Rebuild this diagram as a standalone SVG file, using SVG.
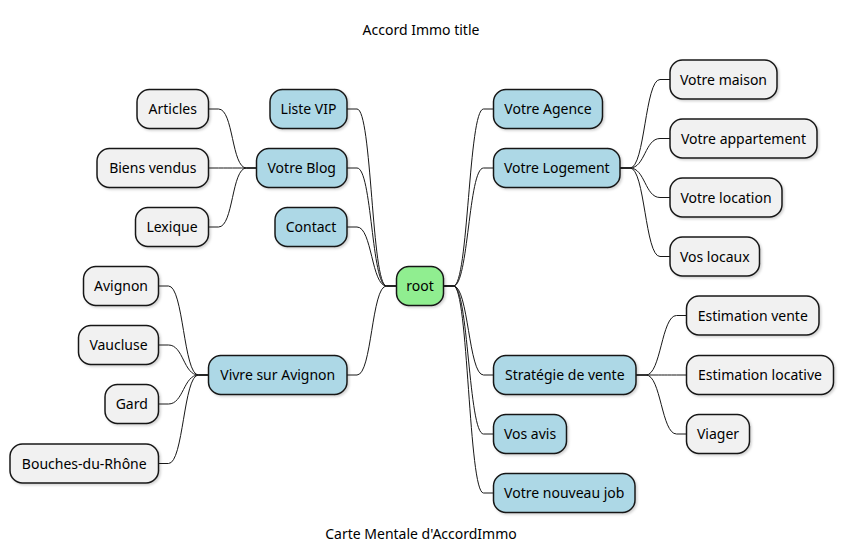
<svg xmlns="http://www.w3.org/2000/svg" width="843" height="555" viewBox="0 0 843 555">
<defs>
<style>
text{font-family:"Noto Sans","Open Sans","DejaVu Sans",sans-serif;font-size:14px;fill:#000000;}
.n text{text-anchor:middle;}
.n rect{stroke:#181818;stroke-width:1.5;rx:12.5;ry:12.5;filter:url(#sh);}
.root rect{fill:#90EE90;}
.l1 rect{fill:#ADD8E6;}
.l2 rect{fill:#F1F1F1;}
#links path{fill:none;stroke:#181818;stroke-width:1;}
</style>
<filter id="sh" x="-10%" y="-10%" width="130%" height="140%">
<feDropShadow dx="1.5" dy="1.5" stdDeviation="1.2" flood-color="#000" flood-opacity="0.18"/>
</filter>
</defs>
<rect width="843" height="555" fill="#FFFFFF"/>
<text x="421" y="35" text-anchor="middle">Accord Immo title</text>
<text x="421" y="539" text-anchor="middle">Carte Mentale d'AccordImmo</text>
<g id="links">
<path d="M396.5,286 L386.5,286 C371.5,286 372,109 357,109 L347,109"/>
<path d="M396.5,286 L386.5,286 C371.5,286 372,168 357,168 L347,168"/>
<path d="M396.5,286 L386.5,286 C371.5,286 372,227 357,227 L347,227"/>
<path d="M396.5,286 L386.5,286 C371.5,286 372,375 357,375 L347,375"/>
<path d="M256.5,168 L246.5,168 C231.5,168 233.5,109 218.5,109 L208.5,109"/>
<path d="M256.5,168 L246.5,168 C231.5,168 233.5,168 218.5,168 L208.5,168"/>
<path d="M256.5,168 L246.5,168 C231.5,168 233.5,227 218.5,227 L208.5,227"/>
<path d="M208.5,375 L198.5,375 C183.5,375 183.5,286 168.5,286 L158.5,286"/>
<path d="M208.5,375 L198.5,375 C183.5,375 183.5,345 168.5,345 L158.5,345"/>
<path d="M208.5,375 L198.5,375 C183.5,375 183.5,404 168.5,404 L158.5,404"/>
<path d="M208.5,375 L198.5,375 C183.5,375 183.5,463.5 168.5,463.5 L158.5,463.5"/>
<path d="M443.5,286 L453.5,286 C468.5,286 468.5,109 483.5,109 L493.5,109"/>
<path d="M443.5,286 L453.5,286 C468.5,286 468.5,168 483.5,168 L493.5,168"/>
<path d="M443.5,286 L453.5,286 C468.5,286 468.5,375 483.5,375 L493.5,375"/>
<path d="M443.5,286 L453.5,286 C468.5,286 468.5,434 483.5,434 L493.5,434"/>
<path d="M443.5,286 L453.5,286 C468.5,286 468.5,493 483.5,493 L493.5,493"/>
<path d="M620,168 L630,168 C645,168 645,79.5 660,79.5 L670,79.5"/>
<path d="M620,168 L630,168 C645,168 645,138.5 660,138.5 L670,138.5"/>
<path d="M620,168 L630,168 C645,168 645,197.5 660,197.5 L670,197.5"/>
<path d="M620,168 L630,168 C645,168 645,256.5 660,256.5 L670,256.5"/>
<path d="M636,375 L646,375 C661,375 661.5,315.5 676.5,315.5 L686.5,315.5"/>
<path d="M636,375 L646,375 C661,375 661.5,375 676.5,375 L686.5,375"/>
<path d="M636,375 L646,375 C661,375 661.5,434 676.5,434 L686.5,434"/>
</g>
<g id="root" class="n root"><rect x="396.5" y="266.5" width="47" height="39"/><text x="420" y="291">root</text></g>
<g id="liste-vip" class="n l1"><rect x="270" y="89.5" width="77" height="39"/><text x="308.5" y="114">Liste VIP</text></g>
<g id="votre-blog" class="n l1"><rect x="256.5" y="148.5" width="90.5" height="39"/><text x="301.75" y="173">Votre Blog</text></g>
<g id="contact" class="n l1"><rect x="275" y="207.5" width="72" height="39"/><text x="311" y="232">Contact</text></g>
<g id="vivre-sur-avignon" class="n l1"><rect x="208.5" y="355.5" width="138.5" height="39"/><text x="277.75" y="380">Vivre sur Avignon</text></g>
<g id="articles" class="n l2"><rect x="137" y="89.5" width="71.5" height="39"/><text x="172.75" y="114">Articles</text></g>
<g id="biens-vendus" class="n l2"><rect x="97" y="148.5" width="111.5" height="39"/><text x="152.75" y="173">Biens vendus</text></g>
<g id="lexique" class="n l2"><rect x="135.5" y="207.5" width="73" height="39"/><text x="172" y="232">Lexique</text></g>
<g id="avignon" class="n l2"><rect x="83.5" y="266.5" width="75" height="39"/><text x="121" y="291">Avignon</text></g>
<g id="vaucluse" class="n l2"><rect x="78.5" y="325.5" width="80" height="39"/><text x="118.5" y="350">Vaucluse</text></g>
<g id="gard" class="n l2"><rect x="105" y="384.5" width="53.5" height="39"/><text x="131.75" y="409">Gard</text></g>
<g id="bouches-du-rhone" class="n l2"><rect x="10" y="444" width="148.5" height="39"/><text x="84.25" y="468.5">Bouches-du-Rhône</text></g>
<g id="votre-agence" class="n l1"><rect x="493.5" y="89.5" width="109" height="39"/><text x="548" y="114">Votre Agence</text></g>
<g id="votre-logement" class="n l1"><rect x="493.5" y="148.5" width="126.5" height="39"/><text x="556.75" y="173">Votre Logement</text></g>
<g id="strategie-de-vente" class="n l1"><rect x="493.5" y="355.5" width="142.5" height="39"/><text x="564.75" y="380">Stratégie de vente</text></g>
<g id="vos-avis" class="n l1"><rect x="493.5" y="414.5" width="73" height="39"/><text x="530" y="439">Vos avis</text></g>
<g id="votre-nouveau-job" class="n l1"><rect x="493.5" y="473.5" width="141.5" height="39"/><text x="564.25" y="498">Votre nouveau job</text></g>
<g id="votre-maison" class="n l2"><rect x="670" y="60" width="107" height="39"/><text x="723.5" y="84.5">Votre maison</text></g>
<g id="votre-appartement" class="n l2"><rect x="670" y="119" width="147" height="39"/><text x="743.5" y="143.5">Votre appartement</text></g>
<g id="votre-location" class="n l2"><rect x="670" y="178" width="112" height="39"/><text x="726" y="202.5">Votre location</text></g>
<g id="vos-locaux" class="n l2"><rect x="670" y="237" width="89.5" height="39"/><text x="714.75" y="261.5">Vos locaux</text></g>
<g id="estimation-vente" class="n l2"><rect x="686.5" y="296" width="132.5" height="39"/><text x="752.75" y="320.5">Estimation vente</text></g>
<g id="estimation-locative" class="n l2"><rect x="686.5" y="355.5" width="147" height="39"/><text x="760" y="380">Estimation locative</text></g>
<g id="viager" class="n l2"><rect x="686.5" y="414.5" width="63" height="39"/><text x="718" y="439">Viager</text></g>
</svg>
